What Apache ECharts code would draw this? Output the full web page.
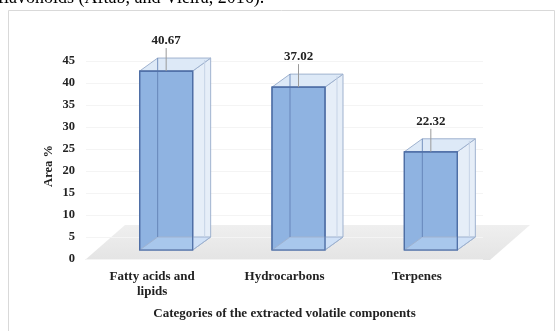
<!DOCTYPE html>
<html>
<head>
<meta charset="utf-8">
<script src="https://cdn.jsdelivr.net/npm/echarts@6/dist/echarts.min.js"></script>
<style>
  html, body { margin: 0; padding: 0; background: #ffffff; }
  #chart { width: 558px; height: 331px; }
</style>
</head>
<body>
<div id="chart"></div>
<script>
// Volatile component categories and their area percentages
const categories = ['Fatty acids and\nlipids', 'Hydrocarbons', 'Terpenes'];
const areaPercent = [40.67, 37.02, 22.32];
const yTicks = { min: 0, max: 45, interval: 5 };
const yTitle = 'Area %';
const xTitle = 'Categories of the extracted volatile components';

const SERIF = '"Liberation Serif", "Times New Roman", serif';

// Box geometry (pixels): front face shift from the category centre, depth offset
const FRONT_DX = 14, FRONT_DY = -9, HALF_W = 26.5;
const DEPTH_X = 18, DEPTH_Y = -13;

const chart = echarts.init(document.getElementById('chart'), null, { renderer: 'canvas' });

function renderBox(params, api) {
  const idx = api.value(0);
  const val = api.value(1);
  const base = api.coord([idx, 0]);
  const top = api.coord([idx, val]);
  const cx = base[0] + FRONT_DX;
  const xl = cx - HALF_W, xr = cx + HALF_W;
  const yb = base[1] + FRONT_DY, yt = top[1] + FRONT_DY;
  const bxl = xl + DEPTH_X, bxr = xr + DEPTH_X;
  const byb = yb + DEPTH_Y, byt = yt + DEPTH_Y;
  const edge = '#4f6fa6';
  const faint = '#9fb2cf';
  const children = [
    // right side face
    { type: 'polygon', shape: { points: [[xr, yt], [bxr, byt], [bxr, byb], [xr, yb]] },
      style: { fill: '#e6eef8', stroke: faint, lineWidth: 1 } },
    // top face
    { type: 'polygon', shape: { points: [[xl, yt], [bxl, byt], [bxr, byt], [xr, yt]] },
      style: { fill: '#dde9f7', stroke: faint, lineWidth: 1 } },
    // front face
    { type: 'rect', shape: { x: xl, y: yt, width: xr - xl, height: yb - yt },
      style: { fill: '#8fb3e1', stroke: edge, lineWidth: 1.2 } },
    // bottom face seen through the front
    { type: 'polygon', shape: { points: [[xl, yb], [bxl, byb], [bxr, byb], [xr, yb]] },
      style: { fill: 'rgba(190,215,245,0.55)', stroke: faint, lineWidth: 1 } },
    // hidden back-left edge showing through
    { type: 'line', shape: { x1: bxl, y1: byt, x2: bxl, y2: byb },
      style: { stroke: '#5d7cb0', lineWidth: 1, opacity: 0.8 } },
    // inner edge on the side face
    { type: 'line', shape: { x1: bxr - 6, y1: byt + 2, x2: bxr - 6, y2: byb },
      style: { stroke: '#c6d3e6', lineWidth: 1 } },
    // front edge redraw
    { type: 'rect', shape: { x: xl, y: yt, width: xr - xl, height: yb - yt },
      style: { fill: null, stroke: edge, lineWidth: 1.2 } },
    // leader line from the value label
    { type: 'line', shape: { x1: cx, y1: byt - 10, x2: cx, y2: yt },
      style: { stroke: '#9a9a9a', lineWidth: 1 } },
    // value label
    { type: 'text', x: cx, y: byt - 17,
      style: { text: val.toFixed(2), fill: '#222', font: 'bold 13px ' + SERIF,
               align: 'center', verticalAlign: 'middle' } }
  ];
  return { type: 'group', children: children };
}

const option = {
  animation: false,
  backgroundColor: '#ffffff',
  grid: { left: 86, right: 75, top: 61, bottom: 72 },
  xAxis: {
    type: 'category',
    data: categories,
    boundaryGap: true,
    axisLine: { show: false },
    axisTick: { show: false },
    axisLabel: {
      margin: 10, color: '#222', fontFamily: SERIF, fontWeight: 'bold',
      fontSize: 13, lineHeight: 15, interval: 0
    },
    name: xTitle,
    nameLocation: 'middle',
    nameGap: 48,
    nameTextStyle: { color: '#222', fontFamily: SERIF, fontWeight: 'bold', fontSize: 13 }
  },
  yAxis: {
    type: 'value',
    min: yTicks.min, max: yTicks.max, interval: yTicks.interval,
    axisLine: { show: false },
    axisTick: { show: false },
    splitLine: { show: true, lineStyle: { color: '#f4f4f4', width: 1 } },
    axisLabel: { margin: 11, color: '#222', fontFamily: SERIF, fontWeight: 'bold', fontSize: 12.5 }
  },
  graphic: [
    // outer frame
    { type: 'rect', z: -10, shape: { x: 8.5, y: 10.5, width: 546, height: 330 },
      style: { fill: '#fff', stroke: '#d9d9d9', lineWidth: 1 } },
    // floor plane
    { type: 'polygon', z: -5, shape: { points: [[85, 260], [490, 260], [530, 225], [125, 225]] },
      style: { fill: new echarts.graphic.LinearGradient(0, 0, 0, 1, [
        { offset: 0, color: '#efefef' }, { offset: 1, color: '#e4e4e4' }]) } },
    // vertical axis title
    { type: 'text', x: 49, y: 166, rotation: Math.PI / 2, z: 10,
      style: { text: yTitle, fill: '#222', font: 'bold 12.5px ' + SERIF,
               align: 'center', verticalAlign: 'middle' } },
    // running text above the frame
    { type: 'text', x: -2, y: 7, z: 10,
      style: { text: 'flavonoids (Aftab, and Vieira, 2016).', fill: '#000',
               font: '18px ' + SERIF, verticalAlign: 'bottom' } }
  ],
  series: [{
    type: 'custom',
    renderItem: renderBox,
    data: areaPercent.map((v, i) => [i, v]),
    z: 5
  }]
};

chart.setOption(option);
</script>
</body>
</html>
